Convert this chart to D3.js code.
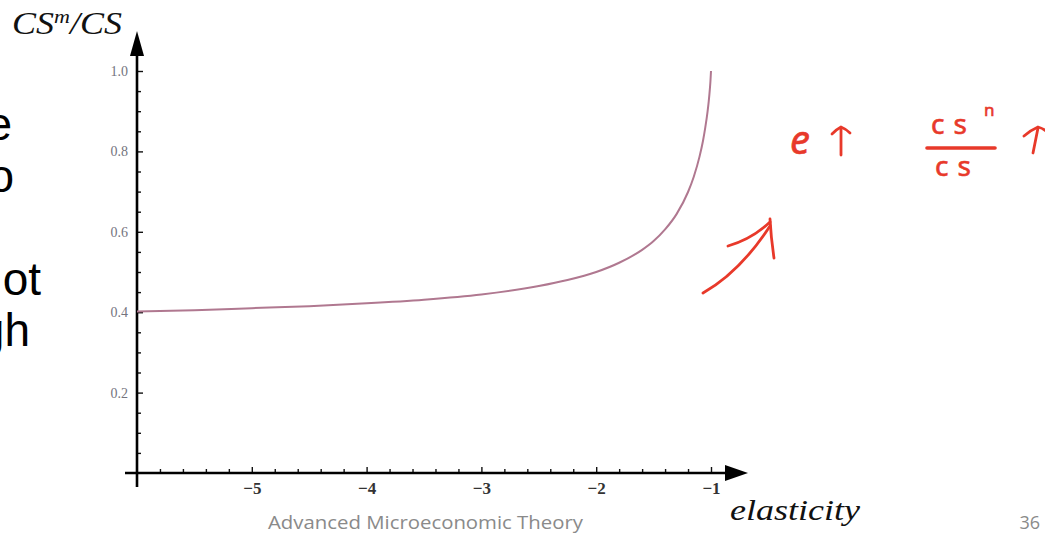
<!DOCTYPE html>
<html lang="en">
<head>
    <meta charset="UTF-8">
    <title>CS^m/CS against elasticity</title>
    <script src="https://d3js.org/d3.v7.min.js"></script>
    <style>
        body { margin: 0; background: #fff; }
        svg { display: block; }
        .serif { font-family: "Liberation Serif", "DejaVu Serif", serif; }
        .tick text { font-family: "Liberation Serif", serif; }
        .slide { font-family: "Liberation Sans", Arial, sans-serif; fill: #000; }
        .ink { font-family: "Noto Sans", "Open Sans", sans-serif; fill: #e8392a; stroke: #e8392a; stroke-width: 0.6; }
    </style>
</head>
<body>
<div id="chart"></div>
<script>
    // Values
    const elasticity = [-6, -5.5, -5, -4.5, -4, -3.5, -3, -2.5, -2.25, -2, -1.8, -1.6, -1.5, -1.4,
        -1.3, -1.2, -1.15, -1.1, -1.07, -1.05, -1.03, -1.02, -1.01, -1.005, -1.0];
    const ratio = [0.402, 0.405, 0.410, 0.415, 0.422, 0.431, 0.444, 0.465, 0.480, 0.500, 0.523, 0.555, 0.577, 0.606,
        0.644, 0.699, 0.737, 0.787, 0.826, 0.859, 0.899, 0.924, 0.955, 0.974, 1.0];
    const xMajor = [-5, -4, -3, -2, -1];
    const xMajorLabels = ["\u22125", "\u22124", "\u22123", "\u22122", "\u22121"];
    const yMajor = [0.2, 0.4, 0.6, 0.8, 1.0];
    const yMajorLabels = ["0.2", "0.4", "0.6", "0.8", "1.0"];
    const sideText = ["e", "o", "", "ot", "gh"];

    const W = 1045, H = 544;
    const svg = d3.select("#chart").append("svg")
        .attr("width", W).attr("height", H);

    const x = d3.scaleLinear().domain([-6, -1]).range([137, 711]);
    const y = d3.scaleLinear().domain([0, 1]).range([473, 71]);

    // minor ticks
    const xMinor = d3.range(-58, -10, 2).map(v => v / 10).filter(v => !xMajor.includes(v));
    const yMinor = d3.range(1, 21).map(v => v * 0.05).filter(v => Math.abs(v * 5 - Math.round(v * 5)) > 1e-6);

    // cut-off slide text on the left
    svg.selectAll(".slide").data(sideText).enter().append("text")
        .attr("class", "slide")
        .attr("text-anchor", "end")
        .attr("x", (d, i) => [12, 14, 0, 41, 30][i])
        .attr("y", (d, i) => 140 + i * 51.5)
        .attr("font-size", 46)
        .text(d => d);

    // x axis ticks
    const gx = svg.append("g").attr("transform", "translate(0," + y(0) + ")");
    gx.call(d3.axisBottom(x).tickValues(xMinor).tickSize(-4).tickFormat(""));
    gx.append("g").call(d3.axisBottom(x).tickValues(xMajor).tickSize(-6).tickPadding(9)
        .tickFormat((d, i) => xMajorLabels[i]));
    gx.selectAll(".domain").remove();
    gx.selectAll("line").attr("stroke", "#111").attr("stroke-width", 1.4);
    gx.selectAll("text").attr("font-size", 17).attr("font-weight", "bold").attr("fill", "#333");

    // y axis ticks
    const gy = svg.append("g").attr("transform", "translate(" + x(-6) + ",0)");
    gy.call(d3.axisLeft(y).tickValues(yMinor).tickSize(-4).tickFormat(""));
    gy.append("g").call(d3.axisLeft(y).tickValues(yMajor).tickSize(-6).tickPadding(9)
        .tickFormat((d, i) => yMajorLabels[i]));
    gy.selectAll(".domain").remove();
    gy.selectAll("line").attr("stroke", "#111").attr("stroke-width", 1.4);
    gy.selectAll("text").attr("font-size", 14).attr("fill", "#74747e");

    // axis lines with arrows
    svg.append("line").attr("x1", 125).attr("x2", 728).attr("y1", y(0)).attr("y2", y(0))
        .attr("stroke", "#000").attr("stroke-width", 2.6);
    svg.append("line").attr("x1", x(-6)).attr("x2", x(-6)).attr("y1", 487).attr("y2", 52)
        .attr("stroke", "#000").attr("stroke-width", 2.6);
    svg.append("path")
        .attr("d", `M725,${y(0) - 8}L748,${y(0)}L725,${y(0) + 8}Z`).attr("fill", "#000");
    svg.append("path")
        .attr("d", `M${x(-6) - 7},56L${x(-6)},31L${x(-6) + 7},56Z`).attr("fill", "#000");

    // curve
    const pts = elasticity.map((e, i) => [e, ratio[i]]);
    svg.append("path")
        .datum(pts)
        .attr("fill", "none")
        .attr("stroke", "#b07890")
        .attr("stroke-width", 2)
        .attr("d", d3.line().x(d => x(d[0])).y(d => y(d[1])).curve(d3.curveMonotoneX));

    // axis titles
    const yl = svg.append("text").attr("class", "serif")
        .attr("x", 12).attr("y", 34).attr("font-size", 31).attr("font-style", "italic").attr("fill", "#111")
        .attr("textLength", 110).attr("lengthAdjust", "spacingAndGlyphs");
    yl.append("tspan").text("CS");
    yl.append("tspan").attr("font-size", 19).attr("dy", -11).text("m");
    yl.append("tspan").attr("dy", 11).text("/CS");

    svg.append("text").attr("class", "serif")
        .attr("x", 730).attr("y", 520).attr("font-size", 30).attr("font-style", "italic")
        .attr("fill", "#111").attr("textLength", 130).attr("lengthAdjust", "spacingAndGlyphs")
        .text("elasticity");

    // footer
    svg.append("text").attr("x", 268).attr("y", 529)
        .attr("font-family", "'Open Sans', 'Liberation Sans', sans-serif")
        .attr("font-size", 18).attr("fill", "#8a8a8a")
        .attr("textLength", 315).attr("lengthAdjust", "spacingAndGlyphs")
        .text("Advanced Microeconomic Theory");
    svg.append("text").attr("x", 1040).attr("y", 529).attr("text-anchor", "end")
        .attr("font-family", "'Open Sans', 'Liberation Sans', sans-serif")
        .attr("font-size", 18).attr("fill", "#8a8a8a").text("36");

    // red handwritten notes
    const red = "#e8392a";
    svg.append("text").attr("class", "ink").attr("x", 790).attr("y", 154)
        .attr("font-size", 40).attr("font-style", "italic").text("e");
    svg.append("text").attr("class", "ink").attr("x", 931).attr("y", 134)
        .attr("font-size", 28).attr("letter-spacing", 9).text("cs");
    svg.append("text").attr("class", "ink").attr("x", 984).attr("y", 116)
        .attr("font-size", 17).text("n");
    svg.append("text").attr("class", "ink").attr("x", 935).attr("y", 176)
        .attr("font-size", 28).attr("letter-spacing", 9).text("cs");

    const ink = (d, w) => svg.append("path").attr("d", d).attr("fill", "none")
        .attr("stroke", red).attr("stroke-width", w || 2.8)
        .attr("stroke-linecap", "round").attr("stroke-linejoin", "round");
    ink("M841,155L841,129");
    ink("M832,134Q837,129 841,127Q846,129 850,133");
    ink("M927,148L995,148", 3.6);
    ink("M1033,153L1038,128");
    ink("M1024,136Q1031,130 1038,127Q1042,128 1046,131");
    ink("M703,293Q740,272 770,226");
    ink("M728,246Q752,239 770,222");
    ink("M770,219Q771,238 774,258");
</script>
</body>
</html>
